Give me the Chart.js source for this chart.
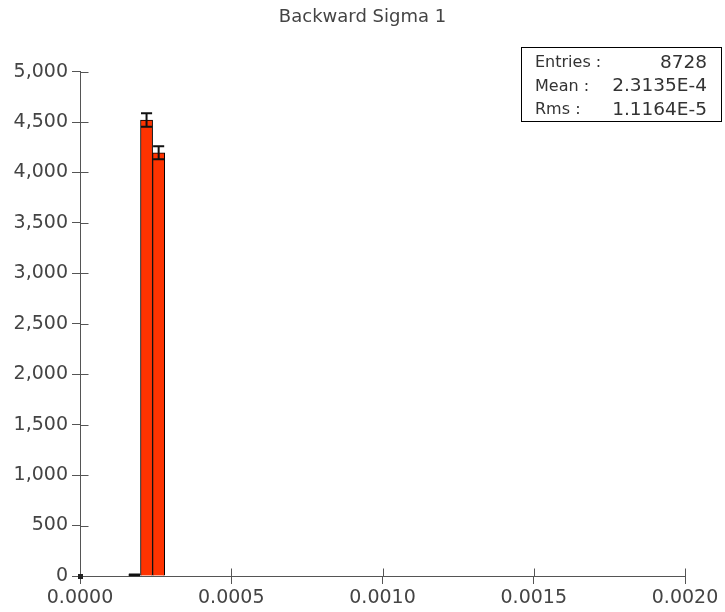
<!DOCTYPE html>
<html>
<head>
<meta charset="utf-8">
<script src="https://cdn.jsdelivr.net/npm/chart.js@4.4.1/dist/chart.umd.min.js"></script>
<style>
  html, body { margin: 0; padding: 0; background: #fff; }
  #wrap { width: 725px; height: 612px; }
</style>
</head>
<body>
<div id="wrap"><canvas id="chart"></canvas></div>
<script>
// histogram bins (centres), counts and sqrt(N) errors
const binCenters = [0.00018, 0.00022, 0.00026];
const binCounts = [12, 4520, 4196];
const binErrors = [3.5, 67.2, 64.8];

const xTickStep = 0.0005;
const yTickStep = 500;
const statsLabels = ['Entries :', 'Mean :', 'Rms :'];
const statsValues = ['8728', '2.3135E-4', '1.1164E-5'];

const FONT = 'DejaVu Sans';
const TEXT = '#444';
const AXIS = '#555';

// crossing tick marks, error bars and the stats box
const extras = {
  id: 'extras',
  afterDatasetsDraw(chart) {
    const ctx = chart.ctx;
    const xs = chart.scales.x, ys = chart.scales.y;
    const meta = chart.getDatasetMeta(0);
    ctx.save();
    ctx.strokeStyle = '#111';
    ctx.lineWidth = 2;
    meta.data.forEach((bar, i) => {
      const x = xs.getPixelForValue(binCenters[i]);
      const yHi = ys.getPixelForValue(binCounts[i] + binErrors[i]);
      const yLo = ys.getPixelForValue(binCounts[i] - binErrors[i]);
      const half = bar.width * 0.5 - 0.5;
      ctx.beginPath();
      ctx.moveTo(x, yHi); ctx.lineTo(x, yLo);
      ctx.moveTo(x - half, yHi); ctx.lineTo(x + half, yHi);
      ctx.moveTo(x - half, yLo); ctx.lineTo(x + half, yLo);
      ctx.stroke();
    });
    ctx.restore();
  },
  afterDraw(chart) {
    const ctx = chart.ctx;
    const xs = chart.scales.x, ys = chart.scales.y;
    const x0 = Math.round(xs.left) + 0.5, y0 = Math.round(ys.bottom) + 0.5;
    ctx.save();
    ctx.strokeStyle = AXIS;
    ctx.lineWidth = 1;
    ctx.beginPath();
    xs.ticks.forEach(t => {
      const px = Math.round(xs.getPixelForValue(t.value)) + 0.5;
      ctx.moveTo(px, y0); ctx.lineTo(px, y0 - 8);
    });
    ys.ticks.forEach(t => {
      const py = Math.round(ys.getPixelForValue(t.value)) + 0.5;
      ctx.moveTo(x0, py); ctx.lineTo(x0 + 8, py);
    });
    ctx.stroke();
    ctx.fillStyle = '#222';
    ctx.fillRect(x0 - 2.5, y0 - 2.5, 5, 5);

    // stats box
    const bx = 521.5, by = 47.5, bw = 200, bh = 74;
    ctx.fillStyle = '#fff';
    ctx.fillRect(bx, by, bw, bh);
    ctx.strokeStyle = '#000';
    ctx.strokeRect(bx, by, bw, bh);
    ctx.fillStyle = '#333';
    ctx.textBaseline = 'middle';
    statsLabels.forEach((lab, i) => {
      const ty = 63 + i * 23.5;
      ctx.font = '16px "' + FONT + '"';
      ctx.textAlign = 'left';
      ctx.fillText(lab, 535, ty);
      ctx.font = '18.5px "' + FONT + '"';
      ctx.textAlign = 'right';
      ctx.fillText(statsValues[i], 707, ty);
    });
    ctx.restore();
  }
};

new Chart(document.getElementById('chart'), {
  type: 'bar',
  data: {
    datasets: [{
      label: 'Backward Sigma 1',
      data: binCenters.map((c, i) => ({ x: c, y: binCounts[i] })),
      backgroundColor: '#ff3300',
      borderColor: '#000',
      borderWidth: 1,
      barPercentage: 1,
      categoryPercentage: 1,
    }],
  },
  options: {
    responsive: true,
    maintainAspectRatio: false,
    animation: false,
    locale: 'en-US',
    layout: { padding: 0 },
    plugins: {
      legend: { display: false },
      tooltip: { enabled: false },
      title: {
        display: true,
        text: 'Backward Sigma 1',
        color: TEXT,
        font: { family: FONT, size: 18, weight: 'normal', lineHeight: 1.2 },
        padding: { top: 7, bottom: 43 },
      },
    },
    scales: {
      x: {
        type: 'linear',
        min: 0,
        max: 0.002,
        offset: false,
        ticks: {
          stepSize: xTickStep,
          color: TEXT,
          padding: 3,
          font: { family: FONT, size: 19 },
          callback: v => v.toFixed(4),
          maxRotation: 0,
          autoSkip: false,
        },
        grid: { offset: false, drawOnChartArea: false, tickLength: 8, color: AXIS },
        border: { color: AXIS },
        afterFit: s => { s.height = 36; },
      },
      y: {
        min: 0,
        max: 5000,
        ticks: {
          stepSize: yTickStep,
          color: TEXT,
          padding: 4,
          font: { family: FONT, size: 19 },
        },
        grid: { drawOnChartArea: false, tickLength: 8, color: AXIS },
        border: { color: AXIS },
        afterFit: s => { s.width = 80; },
      },
      yRight: {
        position: 'right',
        display: true,
        ticks: { display: false },
        grid: { display: false },
        border: { display: false },
        afterFit: s => { s.width = 40; },
      },
    },
  },
  plugins: [extras],
});
</script>
</body>
</html>
